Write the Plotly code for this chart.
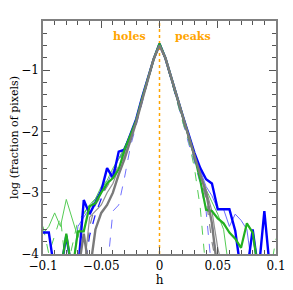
import plotly.graph_objects as go

# bin centres h = -0.1 ... 0.1 step 0.005 (41 bins)
h = [round(-0.1 + 0.005 * i, 3) for i in range(41)]

F = -4.3  # below plotted floor (empty bin)

blue_thick = [-3.65, -3.65, F, F, -3.7, F, F, -3.12, -3.35, -3.17, -2.97, -2.6, -2.76, -2.33, -2.3,
              -2.05, -1.8, -1.45, -1.13, -0.82, -0.57, -0.8, -1.12, -1.45, -1.75, -2.05,
              -2.35, -2.6, -2.78, -2.85, -3.27, -3.27, -3.27, -3.62, F, F, -3.6, F, -3.3, F, F]
blue_thin = [F, F, F, F, F, F, -3.55, -3.4, -3.25, -3.1, -3.0, -2.85, -2.65, -2.45, -2.3,
             -2.08, -1.82, -1.48, -1.15, -0.83, -0.58, -0.81, -1.13, -1.46, -1.78, -2.08,
             -2.38, -2.65, -2.9, -3.05, -3.27, -3.27, -3.55, -3.35, -3.45, -3.6, F, F, F, F, F]
blue_dash_a = [F, F, F, F, F, F, F, F, F, F, F, F, -3.3, -3.2, -2.75,
               -2.25, -1.9, -1.52, -1.18, -0.84, -0.6, -0.82, -1.15, -1.5, -1.85, -2.2,
               -2.5, -2.85, -3.3, F, F, F, F, F, F, F, F, F, F, F, F]
blue_dash_b = [F, F, F, F, F, F, F, F, -3.7, -3.35, -3.1, -2.85, -2.7, -2.45, -2.3,
               -2.1, -1.85, -1.5, -1.16, -0.83, -0.59, -0.81, -1.14, -1.48, -1.8, -2.12,
               -2.45, -2.75, -3.05, -3.5, F, F, F, F, F, F, F, F, F, F, F]
green_thick = [F, F, F, F, -3.67, F, -3.63, -3.63, -3.22, -3.17, -3.0, -2.85, -2.76, -2.62, -2.3,
               -2.07, -1.82, -1.47, -1.14, -0.82, -0.57, -0.8, -1.12, -1.45, -1.77, -2.07,
               -2.4, -2.8, -3.28, -3.3, -3.42, -3.5, -3.65, -3.75, -3.9, -3.5, -3.65, F, F, F, F]
green_thin = [-3.67, -3.55, -3.33, -3.55, -3.11, -3.44, -3.73, -3.33, -3.2, -3.1, -2.9, -2.8, -2.6, -2.45, -2.25,
              -2.05, -1.8, -1.46, -1.14, -0.82, -0.58, -0.8, -1.12, -1.45, -1.77, -2.08,
              -2.4, -2.7, -2.95, -3.15, -3.35, -3.6, F, F, F, F, F, F, F, F, F]
green_dash = [-3.55, -4.0, -3.7, -3.4, F, -3.9, -3.45, -3.35, -3.2, -3.1, -2.95, -2.8, -2.7, -2.5, -2.3,
              -2.1, -1.84, -1.5, -1.16, -0.83, -0.59, -0.82, -1.16, -1.52, -1.85, -2.15,
              -2.6, -3.25, F, F, F, F, F, F, F, F, F, F, F, F, -3.75]
gray_thick = [F, F, F, F, F, F, F, -3.67, F, -3.6, -3.33, -3.2, -3.0, -2.7, -2.45,
              -2.15, -1.85, -1.5, -1.16, -0.82, -0.6, -0.8, -1.12, -1.45, -1.77, -2.08,
              -2.4, -2.7, -3.0, -3.5, F, F, F, F, F, F, F, F, F, F, F]
gray_thin = [F, F, F, F, F, F, F, F, -3.4, -3.3, -3.2, -3.0, -2.85, -2.6, -2.4,
             -2.12, -1.84, -1.49, -1.15, -0.82, -0.59, -0.81, -1.13, -1.46, -1.78, -2.1,
             -2.42, -2.7, -2.95, -3.3, -3.9, F, F, F, F, F, F, F, F, F, F]
gray_dash = [F, F, F, F, F, F, F, F, -3.55, -3.2, -3.05, -2.9, -2.75, -2.55, -2.35,
             -2.12, -1.86, -1.5, -1.16, -0.83, -0.6, -0.82, -1.14, -1.48, -1.8, -2.12,
             -2.45, -2.75, -3.1, -3.8, F, F, F, F, F, F, F, F, F, F, F]

x_ticks = [-0.1, -0.05, 0, 0.05, 0.1]
x_labels = ["\u22120.1", "\u22120.05", "0", "0.05", "0.1"]
y_ticks = [-4, -3, -2, -1]
y_labels = ["\u22124", "\u22123", "\u22122", "\u22121"]

series = [
    (blue_dash_a, "#7070ff", 1.0, "dash"),
    (blue_dash_b, "#2020ff", 1.3, "dash"),
    (blue_thin, "#6a6aff", 1.0, "solid"),
    (green_dash, "#55cc55", 1.0, "dash"),
    (green_thin, "#55cc55", 1.0, "solid"),
    (gray_dash, "#888888", 1.2, "dash"),
    (gray_thin, "#909090", 1.2, "solid"),
    (blue_thick, "#0000ff", 2.4, "solid"),
    (green_thick, "#22b022", 2.2, "solid"),
    (gray_thick, "#7a7a7a", 2.4, "solid"),
]

fig = go.Figure()
for ys, col, w, dash in series:
    fig.add_trace(go.Scatter(x=h, y=ys, mode="lines",
                             line=dict(color=col, width=w, dash=dash),
                             showlegend=False, hoverinfo="skip"))

fig.add_shape(type="line", x0=0, x1=0, y0=-4, y1=-0.2, xref="x", yref="y",
              line=dict(color="#ffa500", width=1.5, dash="dot"), layer="below")

font = "DejaVu Serif"
fig.add_annotation(x=-0.0258, y=-0.45, text="<b>holes</b>", showarrow=False,
                   font=dict(family=font, size=11, color="#ffa500"))
fig.add_annotation(x=0.029, y=-0.45, text="<b>peaks</b>", showarrow=False,
                   font=dict(family=font, size=11, color="#ffa500"))

axis_common = dict(showgrid=False, zeroline=False, showline=True, linecolor="#808080",
                   linewidth=1.5, mirror="ticks", ticks="inside", ticklen=7, tickwidth=1,
                   tickcolor="#555555", automargin=False,
                   tickfont=dict(family=font, size=12, color="black"))
fig.update_xaxes(range=[-0.1, 0.1], tickvals=x_ticks, ticktext=x_labels,
                 minor=dict(dtick=0.01, ticks="inside", ticklen=4, tickcolor="#555555"),
                 title=dict(text="h", font=dict(family=font, size=12, color="black"), standoff=2),
                 **axis_common)
fig.update_yaxes(range=[-4, -0.2], tickvals=y_ticks, ticktext=y_labels,
                 minor=dict(dtick=0.2, ticks="inside", ticklen=4, tickcolor="#555555"),
                 title=dict(text="log (fraction of pixels)", font=dict(family=font, size=11, color="black"), standoff=4),
                 **axis_common)

fig.update_layout(width=285, height=282, margin=dict(l=35, r=17, t=13, b=36),
                  plot_bgcolor="white", paper_bgcolor="white")

fig.write_html("out.html")
